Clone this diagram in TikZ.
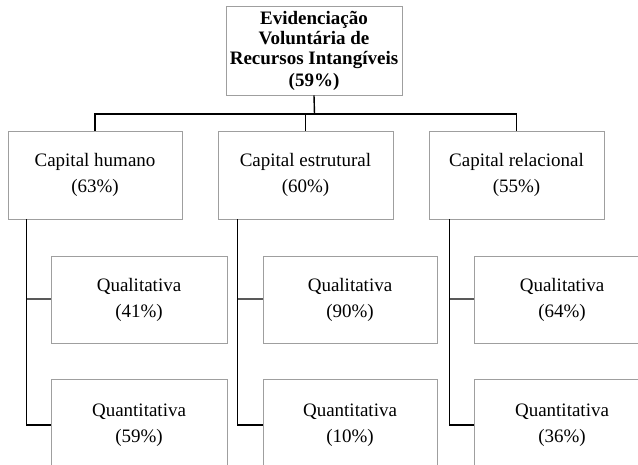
\documentclass[tikz,border=0pt]{standalone}
\usepackage{fontspec}
\setmainfont{Liberation Serif}
\begin{document}
\begin{tikzpicture}[x=1pt,y=1pt,
  box/.style={draw=gray!75, line width=0.9pt, fill=white, align=center, inner sep=0pt,
    font=\fontsize{19}{26}\selectfont, minimum height=88pt},
  topbox/.style={box, font=\fontsize{19}{20}\selectfont\bfseries, minimum width=176pt, minimum height=89pt},
  conn/.style={draw=black, line width=1.4pt},
  qconn/.style={draw=gray!70!black, line width=2pt}]
\useasboundingbox (0,0) rectangle (638,-465);
\fill[white] (0,0) rectangle (638,-465);

\node[topbox] (top) at (314,-50.5) {Evidenciação\\Voluntária de\\Recursos Intangíveis\\[2pt](59\%)};

\node[box, minimum width=174pt] (c1) at (95,-175) {Capital humano\\(63\%)};
\node[box, minimum width=175pt] (c2) at (305.5,-175) {Capital estrutural\\(60\%)};
\node[box, minimum width=175pt] (c3) at (516.5,-175) {Capital relacional\\(55\%)};

\node[box, minimum width=176pt, minimum height=87pt] (q1) at (139,-299.5) {Qualitativa\\(41\%)};
\node[box, minimum width=174pt, minimum height=87pt] (q2) at (350,-299.5) {Qualitativa\\(90\%)};
\node[box, minimum width=176pt, minimum height=87pt] (q3) at (562,-299.5) {Qualitativa\\(64\%)};

\node[box, minimum width=176pt, minimum height=92pt] (n1) at (139,-425) {Quantitativa\\(59\%)};
\node[box, minimum width=174pt, minimum height=92pt] (n2) at (350,-425) {Quantitativa\\(10\%)};
\node[box, minimum width=176pt, minimum height=92pt] (n3) at (562,-425) {Quantitativa\\(36\%)};

\coordinate (j) at (314.5,-114);
\draw[conn] (top.south) -- (j);
\draw[conn] (c1.north) |- (j) -| (c3.north);
\draw[conn] (c2.north) -- (c2.north |- j);

\foreach \i/\s in {1/19,2/20,3/21}{
  \coordinate (v\i) at ([xshift=\s pt]c\i.south west);
  \draw[qconn] (v\i |- q\i.west) -- (q\i.west);
  \draw[conn] (v\i) |- (n\i.west);
}
\end{tikzpicture}
\end{document}
